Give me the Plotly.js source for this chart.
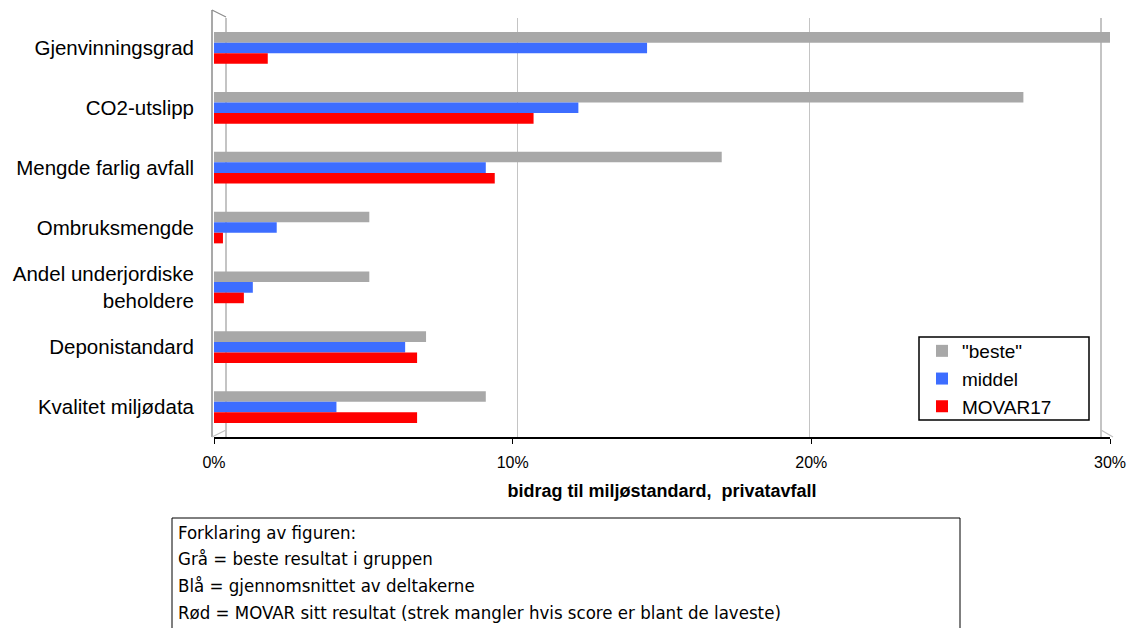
<!DOCTYPE html>
<html>
<head>
<meta charset="utf-8">
<script src="https://cdn.plot.ly/plotly-3.0.1.min.js"></script>
<style>
  html, body { margin: 0; padding: 0; background: #ffffff; }
  #chart { width: 1134px; height: 628px; }
</style>
</head>
<body>
<div id="chart"></div>
<script>
// Indicators, listed top to bottom
const categories = [
  'Gjenvinningsgrad',
  'CO2-utslipp',
  'Mengde farlig avfall',
  'Ombruksmengde',
  'Andel underjordiske<br>beholdere',
  'Deponistandard',
  'Kvalitet miljødata'
];

// Contribution to environmental standard, percent
const beste   = [30.0, 27.1, 17.0, 5.2, 5.2, 7.1, 9.1];
const middel  = [14.5, 12.2, 9.1, 2.1, 1.3, 6.4, 4.1];
const movar17 = [1.8, 10.7, 9.4, 0.3, 1.0, 6.8, 6.8];

const seriesNames = ['"beste"', 'middel', 'MOVAR17'];
const seriesColors = ['#a8a8a8', '#3d6dff', '#ff0000'];

const tickVals = [0, 10, 20, 30];
const tickText = ['0%', '10%', '20%', '30%'];

const noteLines = [
  'Forklaring av figuren:',
  'Grå = beste resultat i gruppen',
  'Blå = gjennomsnittet av deltakerne',
  'Rød = MOVAR sitt resultat (strek mangler hvis score er blant de laveste)'
];

const seriesValues = [beste, middel, movar17];
const traces = seriesValues.map((vals, i) => ({
  type: 'bar',
  orientation: 'h',
  name: seriesNames[i],
  y: categories,
  x: vals,
  marker: { color: seriesColors[i] },
  hoverinfo: 'x+y'
}));

// helper trace on a second axis to carry the back-wall gridlines
traces.push({
  type: 'scatter', x: [0], y: [categories[0]], xaxis: 'x2',
  mode: 'markers', marker: { opacity: 0 }, showlegend: false, hoverinfo: 'skip'
});

const W = 896, H = 419, L = 214, T = 18;
const px = v => (v - L) / W;
const py = v => (T + H - v) / H;

const annotations = noteLines.map((t, i) => ({
  text: t,
  xref: 'paper', yref: 'paper',
  x: px(176), y: py(532 + i * 26.7),
  xanchor: 'left', yanchor: 'middle',
  showarrow: false,
  font: { family: 'DejaVu Sans Condensed, Liberation Sans Narrow, Noto Sans', size: 18.5, color: '#000' }
}));

const wall = '#8c8c8c';
const shapes = [
  // left wall outline
  { type: 'line', xref: 'paper', yref: 'paper', x0: px(212), x1: px(212), y0: py(10), y1: py(437), line: { color: wall, width: 1.5 } },
  { type: 'line', xref: 'paper', yref: 'paper', x0: px(212), x1: px(226), y0: py(10), y1: py(17), line: { color: wall, width: 1.2 } },
  { type: 'line', xref: 'paper', yref: 'paper', x0: px(212), x1: px(226), y0: py(437), y1: py(430), line: { color: '#c0c0c0', width: 1.2 } },
  { type: 'line', xref: 'paper', yref: 'paper', x0: px(1101), x1: px(1113), y0: py(430), y1: py(437), line: { color: '#c0c0c0', width: 1.2 } },
  // legend frame
  { type: 'rect', xref: 'paper', yref: 'paper', x0: px(919), x1: px(1089), y0: py(337), y1: py(420), line: { color: '#000', width: 1.5 }, fillcolor: '#ffffff', layer: 'above' },
  // explanation box
  { type: 'rect', xref: 'paper', yref: 'paper', x0: px(172), x1: px(960), y0: py(518), y1: py(660), line: { color: '#000', width: 1 }, fillcolor: 'rgba(0,0,0,0)' }
];

const layout = {
  width: 1134, height: 628,
  margin: { l: L, r: 1134 - L - W, t: T, b: 628 - T - H, pad: 0 },
  paper_bgcolor: '#ffffff', plot_bgcolor: '#ffffff',
  font: { family: 'Liberation Sans, Arial, sans-serif', size: 16, color: '#000' },
  barmode: 'group',
  bargap: 0.47,
  bargroupgap: 0,
  showlegend: true,
  legend: {
    x: px(922), y: py(332), xanchor: 'left', yanchor: 'top',
    borderwidth: 0, bgcolor: 'rgba(0,0,0,0)',
    font: { size: 19 }, traceorder: 'normal', itemwidth: 30
  },
  xaxis: {
    range: [0, 30],
    tickvals: tickVals, ticktext: tickText,
    showgrid: false, zeroline: false,
    showline: true, linecolor: '#000', linewidth: 1.5,
    ticks: 'outside', ticklen: 5, tickcolor: '#000',
    ticklabelstandoff: 5,
    tickfont: { size: 16 },
    title: { text: '<b>bidrag til miljøstandard,  privatavfall</b>', font: { size: 18 }, standoff: 14 }
  },
  xaxis2: {
    overlaying: 'x', range: [-0.411, 30.309],
    tickvals: tickVals, showticklabels: false,
    showgrid: true, gridcolor: '#c4c4c4', gridwidth: 1.5,
    zeroline: false, showline: false, fixedrange: true
  },
  yaxis: {
    autorange: 'reversed',
    showgrid: false, zeroline: false, showline: false,
    ticks: '', ticklabelstandoff: 19,
    tickfont: { size: 20.5 }
  },
  shapes: shapes,
  annotations: annotations
};

Plotly.newPlot('chart', traces, layout, { displayModeBar: false, staticPlot: true });
</script>
</body>
</html>
